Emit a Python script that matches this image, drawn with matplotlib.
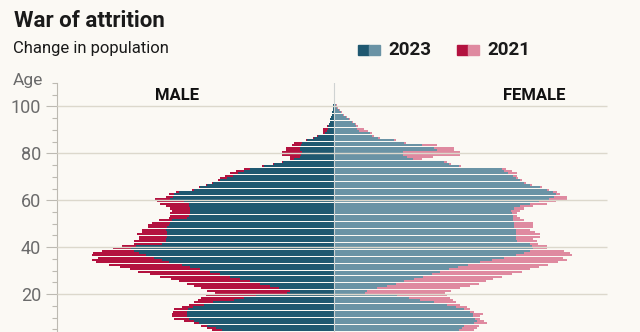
import matplotlib
matplotlib.use("Agg")
import matplotlib.pyplot as plt
import matplotlib.patches as patches
import numpy as np

plt.rcParams['font.family'] = ['Roboto', 'DejaVu Sans']

# Single-year ages shown on the pyramid
ages = np.arange(3, 101)

# Population by single year of age (thousands)
male_2023 = [110, 112, 118, 127, 135, 140, 145,
             147, 147, 147, 146, 141, 130, 121, 100, 90, 78,
             47, 44, 55, 64, 74, 84, 94, 104, 114, 124,
             134, 144, 152, 165, 172, 180, 188, 195, 200, 203,
             198, 172, 168, 168, 167, 167, 167, 168, 167, 165,
             164, 162, 147, 145, 144, 144, 144, 145, 145, 150,
             164, 161, 160, 155, 140, 134, 127, 121, 114, 107,
             101, 96, 90, 84, 70, 60, 51, 40, 34, 33,
             32, 34, 34, 33, 32, 27, 20, 16, 9, 7,
             6, 6, 5, 4, 4, 3, 2, 2, 1, 1,
             1]
male_2021 = [120, 122, 127, 133, 140, 150, 160,
             162, 162, 161, 160, 152, 145, 140, 136, 133, 128,
             119, 127, 133, 140, 147, 155, 163, 174, 184, 196,
             204, 214, 225, 238, 242, 236, 242, 241, 232, 221,
             212, 200, 200, 195, 195, 197, 192, 192, 186, 186,
             182, 175, 165, 164, 164, 162, 164, 168, 174, 177,
             179, 168, 165, 158, 142, 135, 128, 122, 116, 114,
             109, 104, 98, 90, 72, 61, 52, 44, 44, 52,
             52, 48, 48, 42, 40, 28, 21, 17, 11, 11,
             11, 7, 5, 4, 4, 3, 2, 2, 1, 1,
             1]
female_2023 = [120, 125, 128, 130, 140, 143, 141,
               139, 139, 136, 130, 122, 113, 100, 86, 75, 63,
               31, 33, 43, 53, 62, 70, 80, 89, 98, 106,
               115, 124, 134, 146, 158, 170, 182, 190, 196, 199,
               198, 196, 183, 182, 182, 182, 182, 182, 180, 180,
               180, 179, 179, 179, 178, 177, 180, 186, 196, 205,
               215, 220, 222, 219, 213, 206, 196, 190, 186, 182,
               179, 174, 170, 168, 125, 115, 110, 79, 73, 69,
               69, 103, 100, 88, 70, 60, 44, 38, 36, 25,
               23, 22, 21, 18, 15, 12, 9, 7, 5, 3,
               2]
female_2021 = [135, 140, 143, 145, 153, 150, 146,
               146, 149, 140, 136, 133, 126, 122, 119, 116, 113,
               111, 117, 126, 136, 145, 152, 159, 168, 178, 188,
               196, 205, 214, 224, 233, 229, 238, 236, 230, 213,
               213, 204, 203, 199, 206, 206, 201, 196, 199, 199,
               199, 190, 186, 183, 183, 186, 190, 199, 213, 222,
               233, 233, 226, 223, 215, 208, 198, 192, 188, 184,
               183, 183, 178, 172, 127, 117, 113, 88, 99, 126,
               126, 120, 120, 103, 72, 62, 46, 40, 38, 34,
               30, 24, 22, 19, 16, 13, 10, 8, 6, 4,
               3]

BG = '#fbf9f4'
M23, F23 = '#1f5870', '#6a93a5'
M21, F21 = '#b3123f', '#df8aa0'

W, H = 640, 332
fig = plt.figure(figsize=(W / 100, H / 100), dpi=100, facecolor=BG)


def fx(px):
    return px / W


def fy(py):
    return 1 - py / H


# axes spans x 57..611 px, ages 3..110 from y 334 up to y 83
ax = fig.add_axes([fx(57), fy(334), fx(611) - fx(57), fy(83) - fy(334)])
ax.set_facecolor(BG)

ax.barh(ages + 0.5, -np.array(male_2021), height=0.86, color=M21, zorder=1)
ax.barh(ages + 0.5, -np.array(male_2023), height=0.86, color=M23, zorder=2)
ax.barh(ages + 0.5, female_2021, height=0.86, color=F21, zorder=1)
ax.barh(ages + 0.5, female_2023, height=0.86, color=F23, zorder=2)

ax.set_xlim(-277, 277)
ax.set_ylim(3, 110)

for a in [20, 40, 60, 80, 100]:
    ax.plot([-277, 273], [a, a], color='#dcd8cc', lw=1.0, zorder=3,
            solid_capstyle='butt')
ax.axvline(0, color='#cfd3d2', lw=0.8, zorder=3)

ax.set_yticks([20, 40, 60, 80, 100])
ax.set_yticks(np.arange(5, 111, 5), minor=True)
ax.tick_params(axis='y', which='major', length=8, width=0.8, color='#bdbab2',
               labelsize=13, labelcolor='#6b6b6b', pad=3.5)
ax.tick_params(axis='y', which='minor', length=3.5, width=0.8, color='#bdbab2')
ax.set_xticks([])
for s in ['top', 'right', 'bottom']:
    ax.spines[s].set_visible(False)
ax.spines['left'].set_color('#bdbab2')
ax.spines['left'].set_linewidth(0.8)

ax.text(-157, 104.5, 'MALE', ha='center', va='center', fontsize=12,
        fontweight='bold', color='#111111')
ax.text(200, 104.5, 'FEMALE', ha='center', va='center', fontsize=12,
        fontweight='bold', color='#111111')

# titles
fig.text(fx(14), fy(21), 'War of attrition', ha='left', va='center',
         fontsize=16, fontweight='bold', color='#1a1a1a')
fig.text(fx(13), fy(49), 'Change in population', ha='left', va='center',
         fontsize=12, color='#1a1a1a')
fig.text(fx(13), fy(80), 'Age', ha='left', va='center',
         fontsize=12.5, color='#6b6b6b')

# legend: two-tone swatches
for x0, c1, c2, label in [(358, M23, F23, '2023'), (457, M21, F21, '2021')]:
    fig.patches.append(patches.Rectangle((fx(x0), fy(55)), fx(11), 10 / H,
                                         transform=fig.transFigure,
                                         color=c1))
    fig.patches.append(patches.Rectangle((fx(x0 + 11), fy(55)), fx(11), 10 / H,
                                         transform=fig.transFigure,
                                         color=c2))
    fig.text(fx(x0 + 30), fy(50), label, ha='left', va='center',
             fontsize=13.5, fontweight='bold', color='#1a1a1a')

fig.savefig('out.png', dpi=100, facecolor=BG)
